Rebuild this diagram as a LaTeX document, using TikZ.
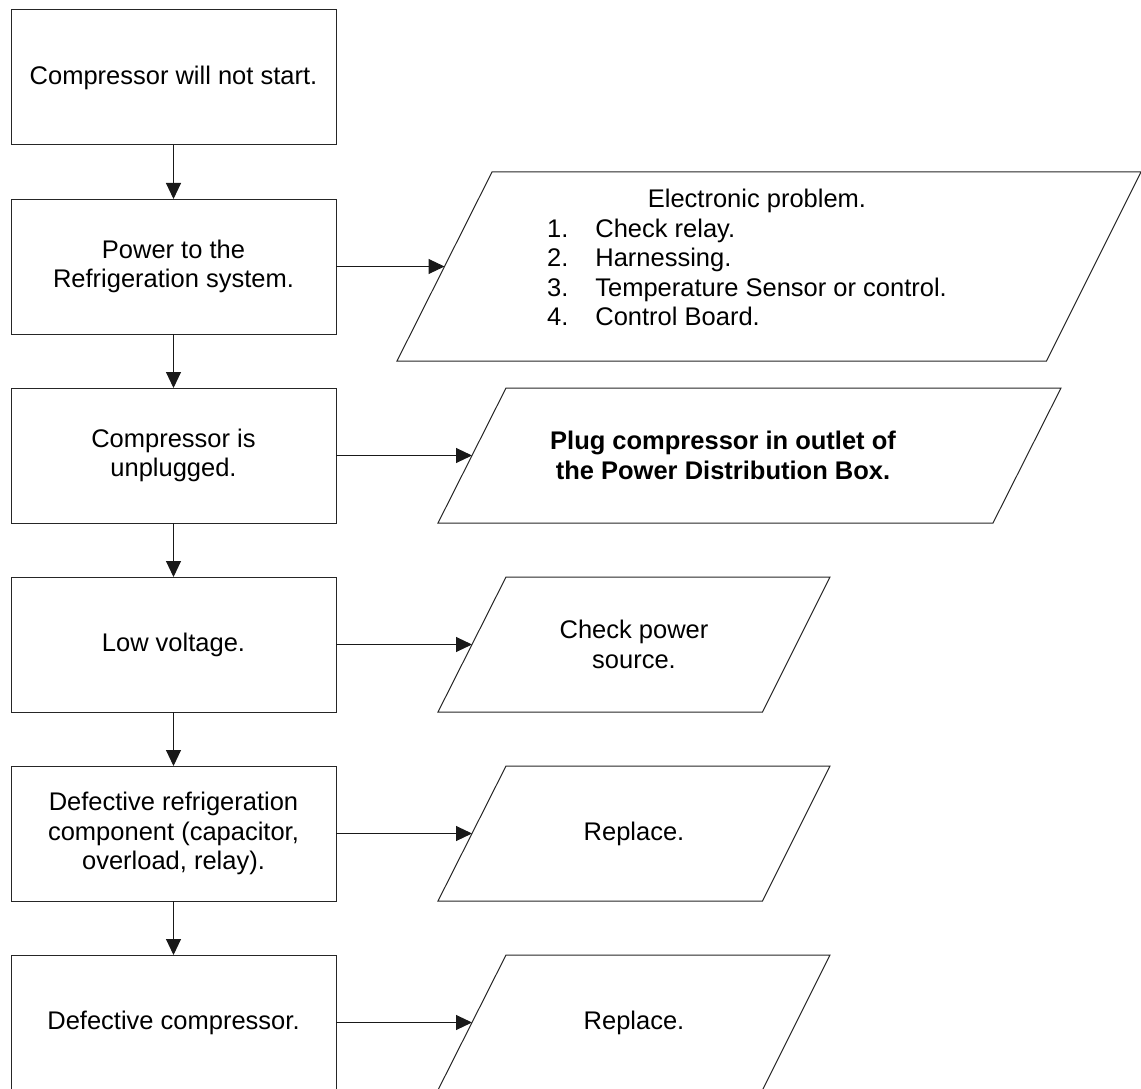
\documentclass[tikz,border=0pt]{standalone}
\usepackage{fontspec}
\setmainfont{Liberation Sans}
\usetikzlibrary{arrows.meta}
\newcommand\flowfont{\fontsize{25.5}{29.5}\selectfont}
\tikzset{
  procbox/.style={draw=black!85, line width=1pt, minimum width=325pt, minimum height=135pt,
    inner sep=2pt, outer sep=0pt, align=center},
  datashape/.style={draw=black!85, line width=1pt, line join=miter},
  datatext/.style={align=center},
  flow/.style={-{Triangle[length=16pt,width=15pt]}, line width=1pt, black!90},
}
\begin{document}
\begin{tikzpicture}[x=1pt,y=-1pt,font=\flowfont]
\useasboundingbox (0,0) rectangle (1141,1089);
% checks on the left
\node[procbox] (q1) at (173.5,77.5) {Compressor will not start.};
\node[procbox] (q2) at (173.5,266.5) {Power to the\\Refrigeration system.};
\node[procbox] (q3) at (173.5,455.5) {Compressor is\\unplugged.};
\node[procbox] (q4) at (173.5,644.5) {Low voltage.};
\node[procbox] (q5) at (173.5,833.5) {Defective refrigeration\\component (capacitor,\\overload, relay).};
\node[procbox] (q6) at (173.5,1022.5) {Defective compressor.};
% remedies on the right
\draw[datashape] (492,172) -- (1141,172) -- (1046.5,361) -- (397,361) -- cycle;
\coordinate (a1) at (444.5,266.5);
\node (a1txt) at (757,261) {\begin{tabular}{@{}r@{\hspace{27pt}}l@{\hspace{20pt}}}
  \multicolumn{2}{@{}c@{}}{Electronic problem.}\\
  1. & Check relay.\\
  2. & Harnessing.\\
  3. & Temperature Sensor or control.\\
  4. & Control Board.
  \end{tabular}};
\draw[datashape] (506,388) -- (1061,388) -- (993,523) -- (438,523) -- cycle;
\coordinate (a2) at (472,455.5);
\node[datatext, font=\flowfont\bfseries] (a2txt) at (723,455.5)
  {Plug compressor in outlet of\\the Power Distribution Box.};
\draw[datashape] (506,577) -- (830,577) -- (762.5,712) -- (438,712) -- cycle;
\coordinate (a3) at (472,644.5);
\node[datatext] (a3txt) at (634,644.5) {Check power\\source.};
\draw[datashape] (506,766) -- (830,766) -- (762.5,901) -- (438,901) -- cycle;
\coordinate (a4) at (472,833.5);
\node[datatext] (a4txt) at (634,833.5) {Replace.};
\draw[datashape] (506,955) -- (830,955) -- (762.5,1090) -- (438,1090) -- cycle;
\coordinate (a5) at (472,1022.5);
\node[datatext] (a5txt) at (634,1022.5) {Replace.};
% connectors
\foreach \i [count=\j from 2] in {1,...,5}
  \draw[flow] (q\i) -- (q\j);
\foreach \i [count=\j from 2] in {1,...,5}
  \draw[flow] (q\j) -- (a\i);
\end{tikzpicture}
\end{document}
